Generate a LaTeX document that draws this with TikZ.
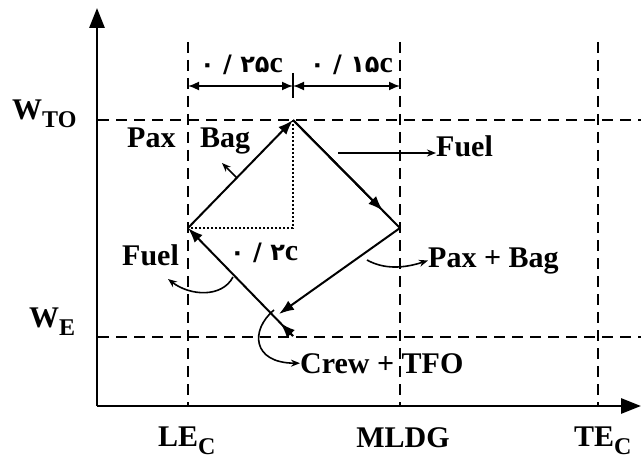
\documentclass[tikz,border=0pt]{standalone}
\usepackage{fontspec}
\setmainfont{Liberation Serif}
\newfontfamily\farsi[Script=Arabic]{DejaVu Sans}
\TeXXeTstate=1
\usetikzlibrary{arrows.meta,positioning,calc}
\newcommand{\lowsub}[1]{\raisebox{-8pt}{\fontsize{24}{24}\selectfont #1}}
\newcommand{\fa}[1]{{\farsi\bfseries\fontsize{24}{24}\selectfont #1}}

\begin{document}
\begin{tikzpicture}[
  x=1pt, y=-1pt,
  every node/.style={font=\fontsize{30}{32}\bfseries\selectfont, inner sep=0pt},
  axis/.style={line width=2.8pt, -{Triangle[length=20pt,width=15pt]}},
  guide/.style={line width=1.5pt, dash pattern=on 11pt off 7pt},
  leg/.style={line width=2pt},
  bigtip/.style={line width=2pt, -{Latex[length=15pt,width=11pt]}},
  turn/.style={line width=1.6pt, -{Stealth[length=9pt,width=7pt]}},
  dim/.style={line width=1.6pt, {Latex[length=11pt,width=9pt]}-{Latex[length=11pt,width=9pt]}}
]
  \useasboundingbox (0,0) rectangle (641,460);

  % Axes
  \coordinate (origin) at (97,406);
  \coordinate (ytop) at (97,8);
  \coordinate (xend) at (641,406);
  \draw[axis] (origin) -- (ytop);
  \draw[axis] (origin) -- (xend);

  % Weight lines
  \draw[guide] (98,120) -- (641,120);
  \draw[guide] (98,337) -- (641,337);

  % CG lines
  \draw[guide] (188,42) -- (188,405);
  \draw[guide] (400,42) -- (400,405);
  \draw[guide] (598,42) -- (598,405);

  % Axis labels
  \node[anchor=base west] (wto) at (12,120) {W\lowsub{TO}};
  \node[anchor=base west] (we) at (29,327) {W\lowsub{E}};
  \node[anchor=base west] (lec) at (158,446) {LE\lowsub{C}};
  \node[anchor=base] (mldg) at (403,447) {MLDG};
  \node[anchor=base west] (tec) at (574,446) {TE\lowsub{C}};

  % Dimensions
  \coordinate (dleft) at (188,86);
  \coordinate (dmid) at (293,86);
  \coordinate (dright) at (400,86);
  \draw[line width=1.6pt] (293,73) -- (293,98);
  \draw[dim] (dleft) -- (dmid);
  \draw[dim] (dmid) -- (dright);
  \node[anchor=base west] (dimA) at (200,73) {\fa{\beginR\beginL ۰ / ۲۵\endL\endR}c};
  \node[anchor=base west] (dimB) at (310,73) {\fa{\beginR\beginL ۰ / ۱۵\endL\endR}c};

  % Envelope points
  \coordinate (top) at (293,120);
  \coordinate (right) at (400,228);
  \coordinate (left) at (188,228);
  \coordinate (bottom) at (293,336);
  \coordinate (meet) at (279,314);
  \coordinate (corner) at (293,228);

  % Dotted helper
  \draw[line width=1.3pt, dash pattern=on 2pt off 2pt] (top) -- (corner) -- (left);

  % Loading path
  \draw[bigtip] (left) -- (top);
  \draw[leg] (top) -- (right);
  \draw[bigtip] (top) -- ($(top)!0.84!(right)$);
  \draw[bigtip] (right) -- (meet);
  \draw[bigtip] (bottom) -- (left);
  \draw[bigtip] (bottom) -- ($(bottom)!0.12!(left)$);

  % Labels
  \node[anchor=base west] (pax) at (127,148) {Pax};
  \node[anchor=base west] (bag) at (200,148) {Bag};
  \node[anchor=base west] (fuelR) at (436,157) {Fuel};
  \node[anchor=base west] (fuelL) at (122,265) {Fuel};
  \node[anchor=base west] (payload) at (428,267) {Pax + Bag};
  \node[anchor=base west] (crew) at (300,373) {Crew + TFO};
  \node[anchor=base west] (slope) at (230,260) {\fa{\beginR\beginL ۰ / ۲\endL\endR}c};

  % Small arrows
  \coordinate (paxS) at (237,178);
  \coordinate (paxE) at (222,163);
  \draw[turn] (paxS) -- (paxE);
  \coordinate (fuelS) at (338,153);
  \draw[turn] (fuelS) -- (fuelR.west |- fuelS);
  \coordinate (lcurl) at (233,277);
  \draw[turn] (lcurl) .. controls (222,298) and (190,296) .. (168,279);
  \coordinate (rcurl) at (367,260);
  \draw[turn] (rcurl) .. controls (385,270) and (405,268) .. (payload.west);
  \coordinate (ccurl) at (274,310);
  \draw[turn] (ccurl) .. controls (250,330) and (252,363) .. (crew.west);
\end{tikzpicture}
\end{document}
